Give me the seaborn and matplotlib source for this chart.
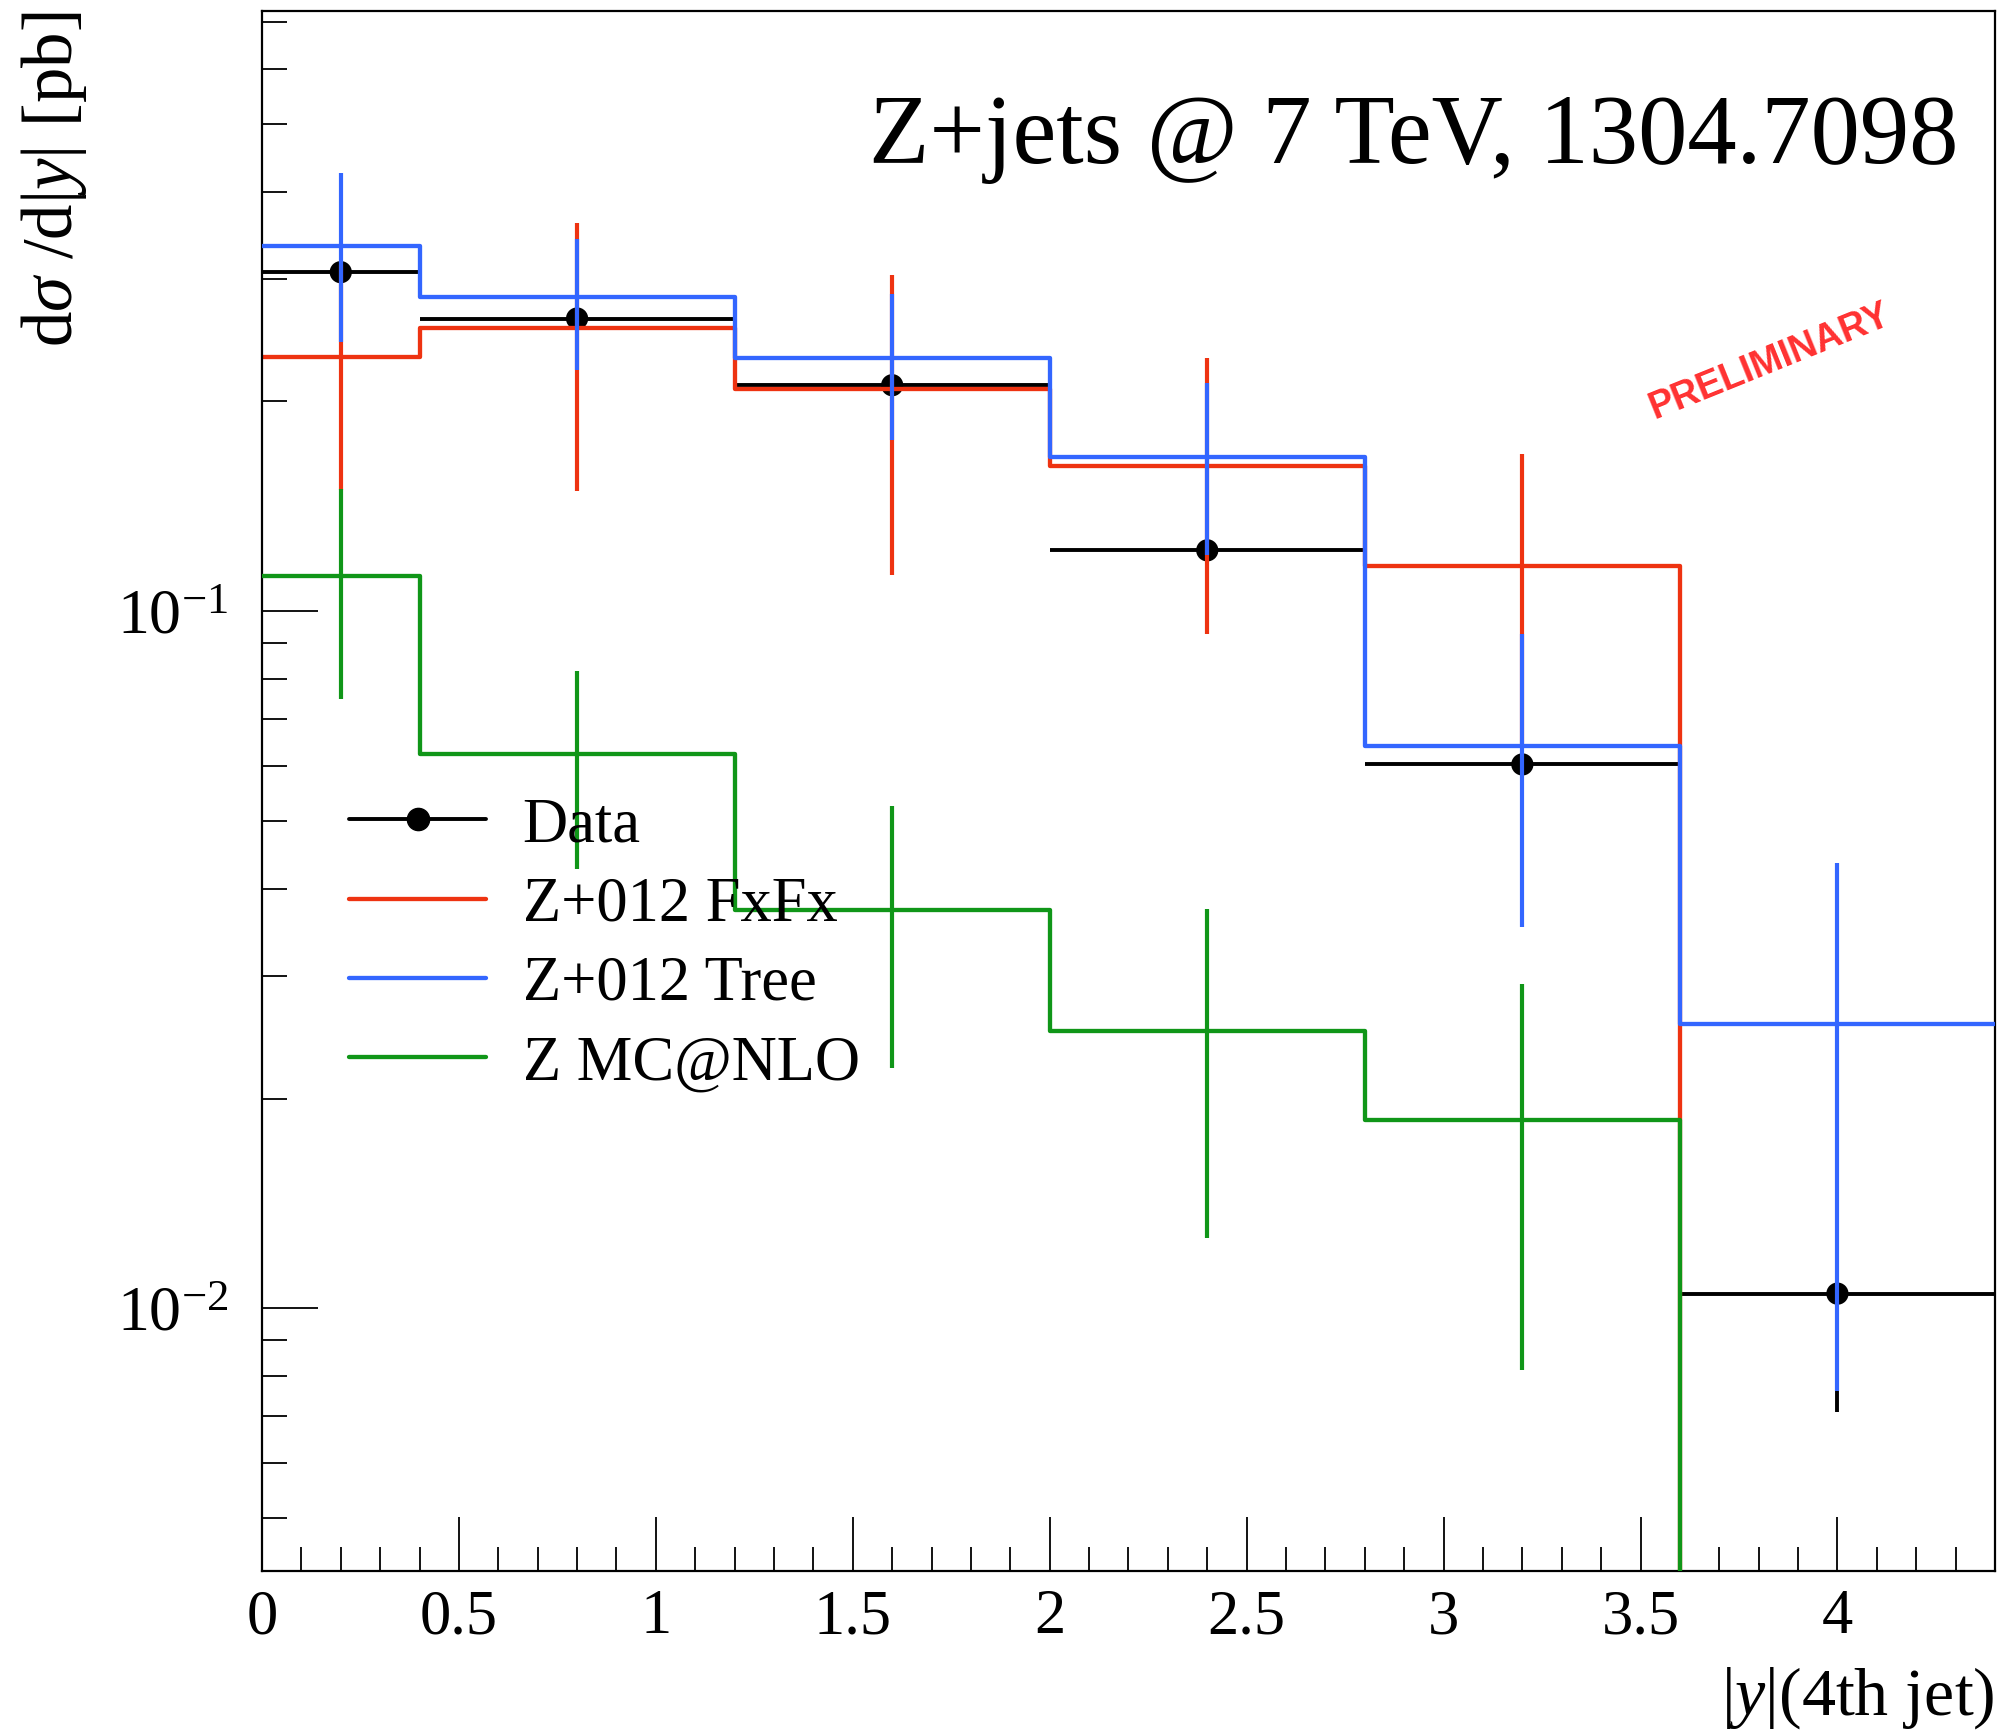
import numpy as np
import pandas as pd
import matplotlib
matplotlib.use("Agg")
import matplotlib.pyplot as plt
from matplotlib.lines import Line2D
from matplotlib.ticker import FixedLocator, MultipleLocator, LogLocator, NullFormatter, FixedFormatter
import seaborn as sns

# bin edges in |y| of the 4th jet
edges = [0.0, 0.4, 1.2, 2.0, 2.8, 3.6, 4.4]

# measured cross sections (pb) and errors
data_vals = [0.3065, 0.263, 0.211, 0.1223, 0.0603, 0.0105]
data_err = [0.040, 0.038, 0.032, 0.023, 0.0165, 0.0034]

# predictions
fxfx_vals = [0.2314, 0.2547, 0.2082, 0.1618, 0.1160, 0.0]
fxfx_err = [0.082, 0.106, 0.0953, 0.069, 0.052, 0.0]
tree_vals = [0.3347, 0.2822, 0.2309, 0.1664, 0.0640, 0.0256]
tree_err = [0.091, 0.060, 0.0547, 0.046, 0.0287, 0.018]
mcnlo_vals = [0.1123, 0.0624, 0.0373, 0.0250, 0.01866, 0.0]
mcnlo_err = [0.0375, 0.0197, 0.0152, 0.0124, 0.0105, 0.0]

labels = ["Data", "Z+012 FxFx", "Z+012 Tree", "Z MC@NLO"]
colors = ["black", "#EE3311", "#3366FF", "#109618"]

sns.set_style("ticks")
plt.rcParams['font.family'] = ['Liberation Serif', 'DejaVu Serif']
plt.rcParams['mathtext.fontset'] = 'custom'
plt.rcParams['mathtext.rm'] = 'Liberation Serif'
plt.rcParams['mathtext.it'] = 'Liberation Serif:italic'
plt.rcParams['mathtext.bf'] = 'Liberation Serif:bold'
plt.rcParams['text.color'] = 'black'
plt.rcParams['axes.labelcolor'] = 'black'
plt.rcParams['xtick.color'] = 'black'
plt.rcParams['ytick.color'] = 'black'

edges = np.array(edges)
centers = 0.5 * (edges[1:] + edges[:-1])
halfw = 0.5 * (edges[1:] - edges[:-1])

fig = plt.figure(figsize=(20.03, 17.35), dpi=100)
ax = fig.add_axes([0.1308, 0.0945, 0.8652, 0.8991])

# data points with bin-width bars
ax.errorbar(centers, data_vals, xerr=halfw, yerr=data_err, fmt='none',
            ecolor='black', elinewidth=2.8, capsize=0, zorder=1)
sns.scatterplot(x=centers, y=data_vals, color='black', s=16 ** 2,
                edgecolor='none', ax=ax, zorder=1.5, legend=False)

series = [(fxfx_vals, fxfx_err, colors[1], 2),
          (tree_vals, tree_err, colors[2], 3),
          (mcnlo_vals, mcnlo_err, colors[3], 4)]
for vals, err, col, z in series:
    vals = np.array(vals)
    err = np.array(err)
    df = pd.DataFrame({"x": edges, "y": np.append(vals, vals[-1])})
    sns.lineplot(data=df, x="x", y="y", drawstyle='steps-post', color=col,
                 lw=3.1, estimator=None, sort=False, ax=ax, zorder=z)
    m = vals > 0
    ax.errorbar(centers[m], vals[m], yerr=err[m], fmt='none', ecolor=col,
                elinewidth=3.0, capsize=0, zorder=z)

ax.set_yscale('log')
ax.set_xlim(0, 4.4)
ax.set_ylim(0.0042, 0.726)

ax.xaxis.set_minor_locator(MultipleLocator(0.1))
ax.set_xticks([0, 0.5, 1, 1.5, 2, 2.5, 3, 3.5, 4])
ax.set_xticklabels(["0", "0.5", "1", "1.5", "2", "2.5", "3", "3.5", "4"])
ax.yaxis.set_major_locator(FixedLocator([0.01, 0.1]))
ax.yaxis.set_major_formatter(FixedFormatter([r"$10^{-2}$", r"$10^{-1}$"]))
ax.yaxis.set_minor_locator(LogLocator(base=10, subs=np.arange(2, 10), numticks=20))
ax.yaxis.set_minor_formatter(NullFormatter())

ax.tick_params(axis='both', which='both', direction='in', top=False, right=False,
               colors='black', width=1.3)
ax.tick_params(axis='x', which='major', length=39, pad=13, labelsize=45)
ax.tick_params(axis='x', which='minor', length=17)
ax.tick_params(axis='y', which='major', length=40, pad=24, labelsize=46)
ax.tick_params(axis='y', which='minor', length=18)
for s in ax.spines.values():
    s.set_linewidth(1.6)
    s.set_color('black')

ax.set_xlabel(r"$|y|$(4th jet)", fontsize=49, loc='right')
ax.xaxis.set_label_coords(1.0, -0.06)
ax.set_ylabel(r"d$\sigma$ /d$|y|$ [pb]", fontsize=51, loc='top')
ax.yaxis.set_label_coords(-0.1, 1.0)

ax.text(0.9787, 0.9026, "Z+jets @ 7 TeV, 1304.7098", transform=ax.transAxes,
        ha='right', va='baseline', fontsize=71)

ax.text(0.870, 0.775, "PRELIMINARY", transform=ax.transAxes, ha='center', va='center',
        rotation=22, fontsize=27, fontweight='bold', color='#FF1A1A', alpha=0.9,
        family=['Liberation Sans Narrow', 'Liberation Sans', 'DejaVu Sans'])

handles = [Line2D([], [], color='black', lw=2.8, marker='o', markersize=16),
           Line2D([], [], color=colors[1], lw=3.1),
           Line2D([], [], color=colors[2], lw=3.1),
           Line2D([], [], color=colors[3], lw=3.1)]
ax.legend(handles, labels, loc='upper left', bbox_to_anchor=(0.0502, 0.496),
          frameon=False, fontsize=45, handlelength=2.2, handletextpad=0.58,
          labelspacing=0.34, borderpad=0, borderaxespad=0)

fig.savefig("out.png", dpi=100)
